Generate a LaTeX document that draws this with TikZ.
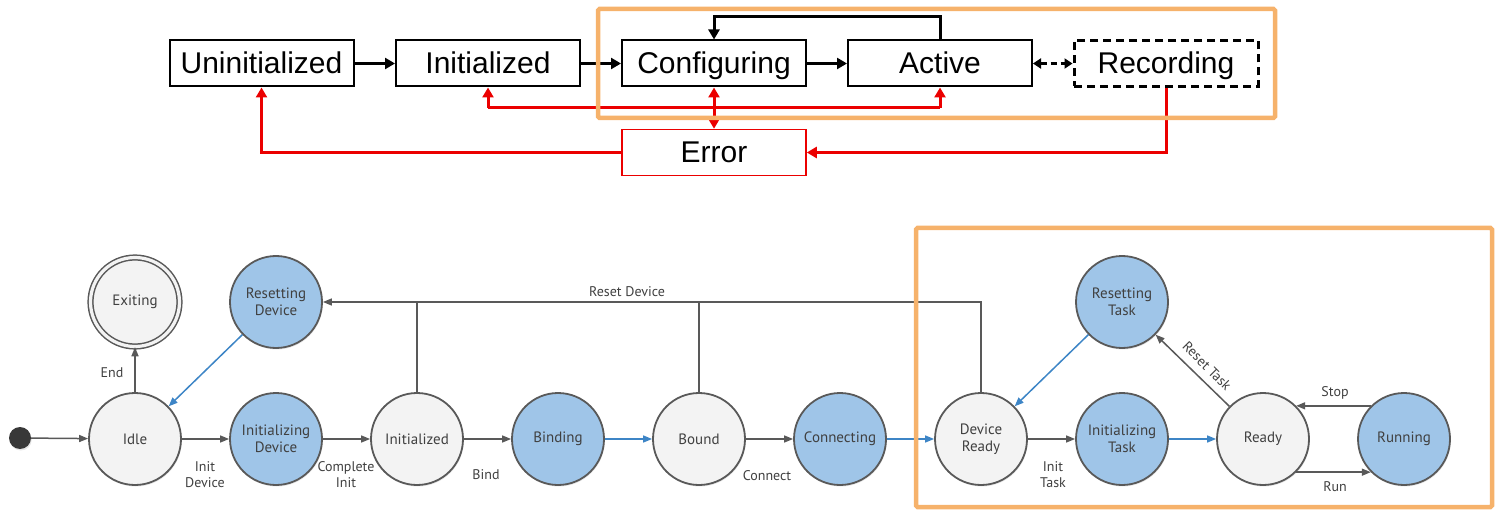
\documentclass[tikz,border=0pt]{standalone}
\usepackage{fontspec}
\setmainfont{Liberation Sans}
\newfontfamily\topfont{Liberation Sans}
\newfontfamily\botfont{PT Sans}
\usetikzlibrary{arrows.meta,shadows}
\definecolor{orangebox}{RGB}{246,178,107}
\definecolor{stategray}{RGB}{243,243,243}
\definecolor{stateblue}{RGB}{159,197,232}
\definecolor{edgegray}{RGB}{89,89,89}
\definecolor{edgeblue}{RGB}{61,133,198}
\definecolor{txtgray}{RGB}{64,64,64}
\definecolor{errred}{RGB}{235,0,0}
\begin{document}
\begin{tikzpicture}[x=1pt,y=-1pt,
  tbox/.style={draw=black, line width=2pt, minimum width=184pt, minimum height=46pt, inner sep=0pt,
    text height=21pt, text depth=0pt, font=\topfont\fontsize{30}{32}\selectfont},
  tarrow/.style={draw=black, line width=3pt, -{Triangle[length=10pt,width=11pt]}},
  rline/.style={draw=errred, line width=3pt},
  rarrow/.style={draw=errred, line width=3pt, -{Triangle[length=10pt,width=11pt]}},
  state/.style={circle, draw=edgegray, line width=1.8pt, minimum size=92pt, inner sep=0pt, align=center,
    font=\botfont\fontsize{15}{17}\selectfont, text=txtgray,
    drop shadow={opacity=0.2, shadow xshift=0.8pt, shadow yshift=-1.5pt}},
  gstate/.style={state, fill=stategray},
  bstate/.style={state, fill=stateblue},
  lbl/.style={font=\botfont\fontsize{14}{16}\selectfont, text=txtgray, align=center},
  garrow/.style={draw=edgegray, line width=1.5pt, -{Triangle[length=9pt,width=7pt]}},
  gline/.style={draw=edgegray, line width=1.5pt},
  barrow/.style={draw=edgeblue, line width=1.5pt, -{Triangle[length=9pt,width=7pt]}},
  hlbox/.style={draw=orangebox, line width=4.5pt, rounded corners=1.5pt}
]
\useasboundingbox (0,0) rectangle (1495,510);

% ---------------- top diagram ----------------
\node[tbox] (uninit) at (261.5,63.5) {Uninitialized};
\node[tbox] (init)   at (488,63.5)   {Initialized};
\node[tbox] (config) at (714,63.5)   {Configuring};
\node[tbox] (active) at (940,63.5)   {Active};
\node[tbox, dashed, dash pattern=on 8pt off 5pt, line width=3pt] (rec) at (1166,63.5) {Recording};
\node[tbox, draw=errred, line width=1.5pt] (error) at (714,152.5) {Error};

\draw[tarrow] (uninit) -- (init);
\draw[tarrow] (init) -- (config);
\draw[tarrow] (config) -- (active);
\draw[draw=black, line width=3pt, dash pattern=on 6pt off 4pt,
  {Triangle[length=8pt,width=10pt]}-{Triangle[length=8pt,width=10pt]}] (active) -- (rec);
\draw[tarrow] (active.north) -- ++(0,-23) -| (config.north);

\coordinate (redy) at (0,108);
\draw[rline] (init.south |- redy) -- (active.south |- redy);
\draw[rarrow] (init.south |- redy) -- (init.south);
\draw[rarrow] (active.south |- redy) -- (active.south);
\draw[rarrow, {Triangle[length=10pt,width=11pt]}-{Triangle[length=10pt,width=11pt]}] (config.south) -- (error.north);
\draw[rarrow] (error.west) -| (uninit.south);
\draw[rarrow] (rec.south) |- (error.east);

\draw[hlbox] (598,9) rectangle (1275,118);

% ---------------- bottom diagram ----------------
\node[circle, fill=black!78, minimum size=22pt, inner sep=0pt,
  drop shadow={opacity=0.2, shadow xshift=0.8pt, shadow yshift=-1.5pt}] (start) at (20,438) {};
\node[gstate, minimum size=89pt, double=stategray, double distance=3.2pt, line width=1.5pt] (exiting) at (135,302) {Exiting};
\node[gstate] (idle) at (135,439) {Idle};
\node[bstate] (resetdev) at (276,302) {Resetting\\Device};
\node[bstate] (initdev) at (276,439) {Initializing\\Device};
\node[gstate] (initd) at (417,439) {Initialized};
\node[bstate] (binding) at (558,439) {Binding};
\node[gstate] (bound) at (699,439) {Bound};
\node[bstate] (connecting) at (840,439) {Connecting};
\node[gstate] (devready) at (981,439) {Device\\Ready};
\node[bstate] (resettask) at (1122,302) {Resetting\\Task};
\node[bstate] (inittask) at (1122,439) {Initializing\\Task};
\node[gstate] (ready) at (1263,439) {Ready};
\node[bstate] (running) at (1404,439) {Running};

\draw[garrow] (start) -- (idle);
\draw[garrow] (idle) -- (exiting);
\draw[garrow] (idle) -- (initdev);
\draw[garrow] (initdev) -- (initd);
\draw[garrow] (initd) -- (binding);
\draw[barrow] (binding) -- (bound);
\draw[garrow] (bound) -- (connecting);
\draw[barrow] (connecting) -- (devready);
\draw[garrow] (devready) -- (inittask);
\draw[barrow] (inittask) -- (ready);
\draw[barrow] (resetdev) -- (idle);
\draw[barrow] (resettask) -- (devready);
\draw[garrow] (ready) -- (resettask);
\draw[garrow] (running.135) -- (ready.45);
\draw[garrow] (ready.-45) -- (running.-135);

\draw[garrow] (devready.north) |- (resetdev.east);
\draw[gline] (initd.north) -- (initd.north |- resetdev.east);
\draw[gline] (bound.north) -- (bound.north |- resetdev.east);

\node[lbl] (lend) at (112,373) {End};
\node[lbl] (linitdev) at (205,475) {Init\\Device};
\node[lbl] (lcompl) at (346,475) {Complete\\Init};
\node[lbl] (lbind) at (486,475) {Bind};
\node[lbl] (lconn) at (767,476) {Connect};
\node[lbl] (linittask) at (1053,475) {Init\\Task};
\node[lbl] (lresetdev) at (627,292) {Reset Device};
\node[lbl, rotate=-45] (lresettask) at (1207,366) {Reset Task};
\node[lbl] (lstop) at (1335,393) {Stop};
\node[lbl] (lrun) at (1335,487) {Run};

\draw[hlbox] (916,228) rectangle (1492,507);
\end{tikzpicture}
\end{document}
